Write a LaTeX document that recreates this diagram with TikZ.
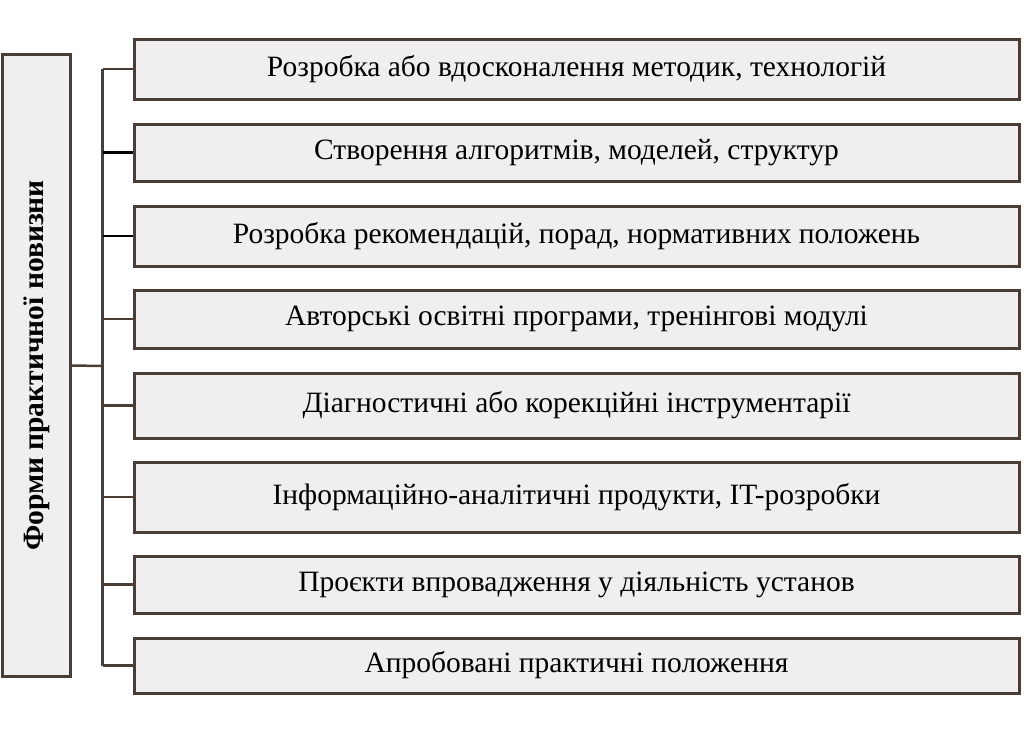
\documentclass[tikz,border=0pt]{standalone}
\usepackage{fontspec}
\setmainfont{Liberation Serif}
\definecolor{frame}{HTML}{4A3D36}
\definecolor{boxfill}{HTML}{F0EEEF}
\tikzset{
  formbox/.style = {draw = frame, fill = boxfill, line width = 3pt,
    minimum width = 885pt, inner sep = 0pt, font = \fontsize{29.5}{34}\selectfont},
  mainbox/.style = {draw = frame, fill = boxfill, line width = 3pt, rotate = 90,
    minimum width = 622pt, minimum height = 68pt, inner sep = 0pt,
    font = \fontsize{29.5}{34}\selectfont\bfseries},
  link/.style = {draw = frame, line width = 2.5pt},
  darklink/.style = {draw = black, line width = 2.5pt}
}
\begin{document}
\begin{tikzpicture}[x = 1pt, y = -1pt]
			\useasboundingbox (0,0) rectangle (1024,732);
			\node[mainbox] (main) at (36.5,365.5) {Форми практичної новизни};
			\foreach \y/\h/\txt [count = \i] in {
				69/60/{Розробка або вдосконалення методик, технологій},
				152.5/57/{Створення алгоритмів, моделей, структур},
				236/60/{Розробка рекомендацій, порад, нормативних положень},
				319/58/{Авторські освітні програми, тренінгові модулі},
				405.5/65/{Діагностичні або корекційні інструментарії},
				497/70/{Інформаційно-аналітичні продукти, IT-розробки},
				584.5/57/{Проєкти впровадження у діяльність установ},
				665.5/55/{Апробовані практичні положення}}
			\node[formbox, minimum height = \h pt] (f\i) at (576.5,\y) {\txt};
			\coordinate (bus) at (102.5,366);
			\draw[link] (main.south) -- (bus);
			\draw[link] (f1.west -| bus) -- (f8.west -| bus);
			\foreach \i in {1,4,5,6,7,8}
			\draw[link] (f\i.west) -- (f\i.west -| bus);
			\foreach \i in {2,3}
			\draw[darklink] (f\i.west) -- (f\i.west -| bus);
		\end{tikzpicture}
\end{document}
